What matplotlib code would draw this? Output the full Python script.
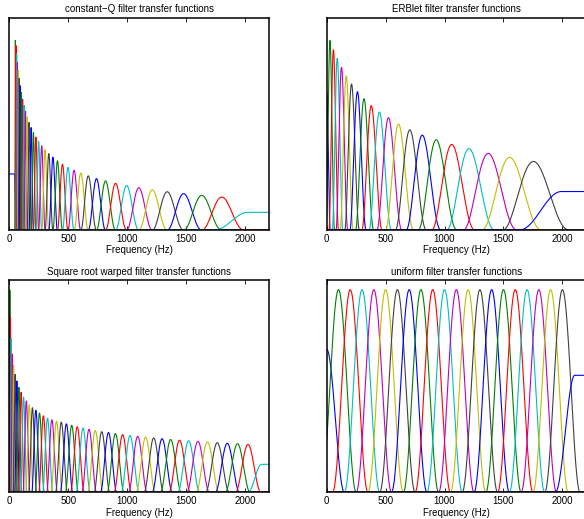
import numpy as np
import matplotlib
matplotlib.use("Agg")
import matplotlib.pyplot as plt

plt.rcParams["font.family"] = ["Liberation Sans", "DejaVu Sans"]

fmax = 2205.0  # Nyquist, x axis limit
xticks = [0, 500, 1000, 1500, 2000]

# constant-Q panel: centre frequencies (Hz) and peak heights (fraction of axis height)
cq_centers = [51.0, 56.3, 62.2, 68.7, 75.8, 83.7, 92.4, 102.0, 112.6, 124.4,
              137.3, 151.6, 167.4, 184.8, 204.0, 225.3, 248.7, 274.6, 303.2, 334.8,
              369.6, 408.1, 450.6, 497.5, 549.3, 606.5, 669.6, 739.3, 816.3, 901.3,
              995.1, 1098.7, 1213.1, 1339.4, 1478.8, 1632.7, 1802.7]
cq_heights = [0.894, 0.870, 0.828, 0.789, 0.751, 0.715, 0.680, 0.648, 0.617, 0.588,
              0.560, 0.533, 0.507, 0.483, 0.460, 0.438, 0.417, 0.397, 0.378, 0.360,
              0.343, 0.326, 0.310, 0.295, 0.281, 0.268, 0.255, 0.242, 0.231, 0.220,
              0.209, 0.199, 0.189, 0.180, 0.171, 0.163, 0.155]
cq_dc = (45, 56, 0.264)       # flat until, zero at, height
cq_nyq = (1743, 2025, 0.083)  # zero until, flat from, height

# ERBlet panel
erb_centers = [27.9, 57.1, 89.6, 125.7, 166.0, 210.9, 260.8, 316.4, 378.4, 447.4,
               524.2, 609.8, 705.1, 811.1, 929.3, 1060.8, 1207.3, 1370.5, 1552.1, 1754.5]
erb_heights = [0.894, 0.850, 0.809, 0.767, 0.726, 0.688, 0.652, 0.619, 0.586, 0.556,
               0.529, 0.499, 0.472, 0.447, 0.425, 0.403, 0.383, 0.361, 0.342, 0.323]
erb_dc = (0, 30, 0.65)
erb_nyq = (1638, 1991, 0.181)

# square root warped panel
sq_centers = [4, 9, 16, 25, 36, 49, 64, 81, 100, 121, 144, 169, 196, 225, 256,
              289, 324, 361, 400, 441, 484, 529, 576, 625, 676, 729, 784, 841, 900,
              961, 1024, 1089, 1156, 1225, 1296, 1369, 1444, 1521, 1600, 1681, 1764,
              1849, 1936, 2025]
sq_heights = [0.954, 0.828, 0.726, 0.652, 0.600, 0.556, 0.525, 0.495, 0.472, 0.448,
              0.431, 0.412, 0.399, 0.387, 0.374, 0.361, 0.349, 0.342, 0.336, 0.331,
              0.323, 0.316, 0.309, 0.303, 0.297, 0.292, 0.286, 0.282, 0.277, 0.272,
              0.268, 0.264, 0.260, 0.256, 0.253, 0.249, 0.246, 0.243, 0.240, 0.237,
              0.234, 0.231, 0.229, 0.226]
sq_dc = (0, 2, 0.95)
sq_nyq = (2025, 2139, 0.132)

# uniform panel
uni_centers = [100, 200, 300, 400, 500, 600, 700, 800, 900, 1000,
               1100, 1200, 1300, 1400, 1500, 1600, 1700, 1800, 1900, 2000]
uni_heights = [0.956] * 20
uni_dc = (0, 150, 0.675)
uni_nyq = (1940, 2105, 0.552)

colors = [(0, 0, 1), (0, 0.5, 0), (1, 0, 0), (0, 0.75, 0.75),
          (0.75, 0, 0.75), (0.75, 0.75, 0), (0.25, 0.25, 0.25)]

freq = np.linspace(0, fmax, 8821)


def warp_log(f):
    return np.log2(np.maximum(f, 1e-3))


def warp_erb(f):
    return 21.4 * np.log10(1 + 0.00437 * f)


def warp_sqrt(f):
    return np.sqrt(f)


def warp_lin(f):
    return f


def hann(warp, c, h, hw):
    d = (warp(freq) - warp(np.array(c))) / hw
    g = h * 0.5 * (1 + np.cos(np.pi * d))
    g[np.abs(d) >= 1] = 0
    return g


def ramp_down(a, b, h):
    g = np.zeros_like(freq)
    g[freq <= a] = h
    m = (freq > a) & (freq < b)
    g[m] = h * 0.5 * (1 + np.cos(np.pi * (freq[m] - a) / (b - a)))
    return g


def ramp_up(a, b, h):
    g = np.zeros_like(freq)
    g[freq >= b] = h
    m = (freq > a) & (freq < b)
    g[m] = h * 0.5 * (1 - np.cos(np.pi * (freq[m] - a) / (b - a)))
    return g


panels = [
    ("constant\u2212Q filter transfer functions", cq_centers, cq_heights, cq_dc, cq_nyq, warp_log, 0.14),
    ("ERBlet filter transfer functions", erb_centers, erb_heights, erb_dc, erb_nyq, warp_erb, 1.3),
    ("Square root warped filter transfer functions", sq_centers, sq_heights, sq_dc, sq_nyq, warp_sqrt, 1.2),
    ("uniform filter transfer functions", uni_centers, uni_heights, uni_dc, uni_nyq, warp_lin, 150.0),
]

positions = [[0.016, 0.557, 0.445, 0.4085],
             [0.5594, 0.557, 0.445, 0.4085],
             [0.016, 0.0514, 0.445, 0.4085],
             [0.5594, 0.0514, 0.445, 0.4085]]

fig = plt.figure(figsize=(5.84, 5.19), dpi=100)

for (title, centers, heights, dc, nyq, warp, hw), pos in zip(panels, positions):
    ax = fig.add_axes(pos)
    curves = [ramp_down(*dc)]
    for c, h in zip(centers, heights):
        curves.append(hann(warp, c, h, hw))
    curves.append(ramp_up(*nyq))
    for i, g in enumerate(curves):
        ax.plot(freq, g, color=colors[i % 7], lw=0.8)
    ax.set_xlim(0, fmax)
    ax.set_ylim(0, 1)
    ax.set_xticks(xticks)
    ax.set_yticks([])
    ax.tick_params(axis="x", direction="in", top=True, length=3, width=0.6,
                   labelsize=7, pad=3)
    for s in ax.spines.values():
        s.set_linewidth(1.1)
        s.set_color("black")
    ax.set_title(title, fontsize=7, pad=4)
    ax.set_xlabel("Frequency (Hz)", fontsize=7, labelpad=1)

fig.savefig("out.png", dpi=100)
